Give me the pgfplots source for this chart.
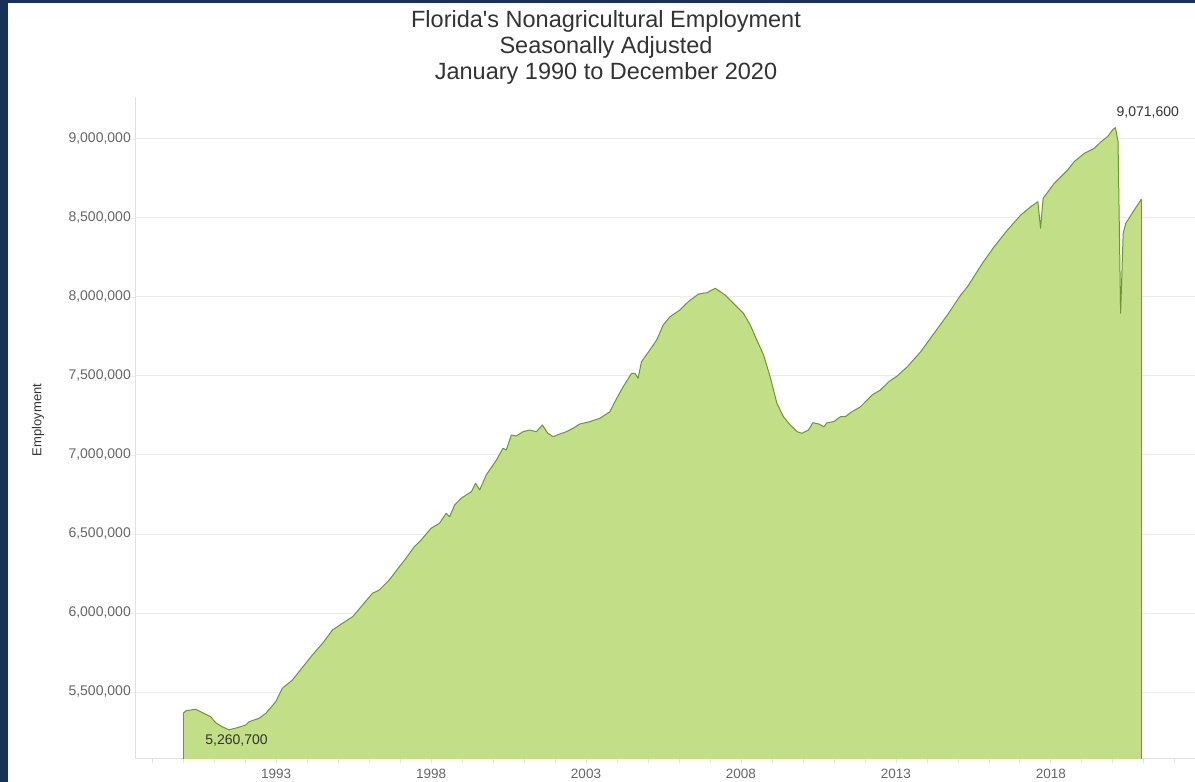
\documentclass[border=0pt]{standalone}
\usepackage{fontspec}
\setmainfont{Liberation Sans}
\usepackage{pgfplots}
\pgfplotsset{compat=1.18}
\usepackage{pgfplotstable}
\definecolor{navy}{RGB}{23,49,89}
\definecolor{areafill}{RGB}{194,222,135}
\definecolor{arealine}{RGB}{110,150,50}
\definecolor{gridc}{RGB}{236,236,236}
\definecolor{axisc}{RGB}{225,225,225}
\definecolor{ticklab}{RGB}{102,102,102}
\definecolor{titlec}{RGB}{51,51,51}

\pgfplotstableread{
year value
1990.000 5365000
1990.10 5381700
1990.40 5390600
1990.67 5365300
1990.89 5343700
1991.05 5305800
1991.26 5280400
1991.48 5260700
1991.75 5274100
1992.02 5291200
1992.13 5312100
1992.45 5333600
1992.67 5365300
1992.99 5438700
1993.20 5523500
1993.53 5576000
1993.74 5628500
1994.17 5734200
1994.50 5808300
1994.82 5892500
1995.14 5934800
1995.47 5976600
1995.79 6050700
1996.11 6124700
1996.33 6145600
1996.65 6208900
1996.98 6293100
1997.19 6346200
1997.46 6419700
1997.68 6462100
1998.00 6536100
1998.27 6567800
1998.49 6631100
1998.60 6609500
1998.76 6683600
1998.97 6726000
1999.30 6767800
1999.44 6820900
1999.57 6778500
1999.78 6873500
2000.11 6968400
2000.32 7042400
2000.43 7031700
2000.59 7126600
2000.75 7120300
2000.97 7147500
2001.18 7158300
2001.40 7147500
2001.59 7189900
2001.77 7137400
2001.94 7115900
2002.15 7132900
2002.37 7147500
2002.58 7169000
2002.80 7196200
2003.12 7210800
2003.45 7232300
2003.77 7274100
2003.99 7358900
2004.20 7432300
2004.47 7517100
2004.58 7517100
2004.68 7485500
2004.79 7590500
2005.06 7664600
2005.28 7727900
2005.49 7822800
2005.71 7875300
2006.03 7917700
2006.30 7970300
2006.63 8019000
2006.90 8027200
2007.17 8055100
2007.49 8012700
2007.81 7949400
2008.08 7896900
2008.30 7822800
2008.51 7727900
2008.73 7632900
2008.94 7495600
2009.16 7327200
2009.37 7242400
2009.59 7189900
2009.81 7147500
2009.97 7137400
2010.18 7158300
2010.32 7204500
2010.51 7196200
2010.67 7179100
2010.78 7204500
2010.99 7210800
2011.21 7242400
2011.37 7242400
2011.53 7267800
2011.86 7305700
2012.23 7379800
2012.50 7411400
2012.77 7464000
2013.04 7500000
2013.37 7558900
2013.80 7653800
2014.23 7770300
2014.66 7886100
2015.09 8012700
2015.31 8065200
2015.79 8213300
2016.17 8318400
2016.60 8424100
2017.03 8519000
2017.35 8571500
2017.58 8603200
2017.667 8434800
2017.75 8624700
2018.11 8719600
2018.54 8803800
2018.75 8856300
2019.08 8909500
2019.40 8941100
2019.62 8982900
2019.83 9014600
2020.00 9060000
2020.083 9071600
2020.167 8982900
2020.25 7896900
2020.333 8403200
2020.417 8466500
2020.69 8550600
2020.917 8618400
}\emp

\begin{document}
\begin{tikzpicture}[x=1pt,y=1pt]
\useasboundingbox (0,0) rectangle (1195,782);
\fill[white] (0,0) rectangle (1195,782);
\fill[navy] (0,0) rectangle (7.5,782);
\fill[navy] (0,779.3) rectangle (1195,782);
\node[font=\fontsize{23.5}{26}\selectfont, text=titlec, align=center, anchor=center, inner sep=0pt] at (606,734.5) {Florida\textquotesingle s Nonagricultural Employment\\Seasonally Adjusted\\January 1990 to December 2020};
\node[font=\fontsize{13}{15}\selectfont, text=titlec, rotate=90, anchor=center, inner sep=0pt] at (38,362) {Employment};
\begin{axis}[
  at={(136pt,23pt)}, anchor=south west,
  scale only axis, width=1059pt, height=662pt,
  xmin=1988.48, xmax=2022.65,
  ymin=5076000, ymax=9265800,
  axis x line*=bottom, axis y line*=left,
  axis line style={-, draw=axisc, line width=1pt},
  tick align=outside,
  xtick={1993,1998,2003,2008,2013,2018},
  xticklabels={1993,1998,2003,2008,2013,2018},
  minor xtick={1989,1990,...,2022},
  major tick length=4pt, minor tick length=4pt,
  tick style={draw=axisc, line width=0.8pt},
  ytick={5500000,6000000,6500000,7000000,7500000,8000000,8500000,9000000},
  ytick style={/pgfplots/major tick length=8pt, draw=gridc},
  scaled y ticks=false,
  /pgf/number format/assume math mode=true,
  yticklabel style={/pgf/number format/fixed, /pgf/number format/precision=0, /pgf/number format/1000 sep={,}, font=\fontsize{14}{16}\selectfont, text=ticklab, inner sep=0pt, xshift=-1pt},
  xticklabel style={font=\fontsize{13.5}{16}\selectfont, text=ticklab, inner sep=0pt, yshift=-6pt},
  ymajorgrids, major grid style={draw=gridc, line width=1pt},
]
\addplot[fill=areafill, draw=none] table[x=year, y=value] {\emp} \closedcycle;
\addplot[draw=arealine, line width=1pt, line join=round] table[x=year, y=value] {\emp};
\draw[arealine, line width=1pt] (axis cs:1990,5076000) -- (axis cs:1990,5365000);
\draw[gray!60!arealine, line width=1pt] (axis cs:2020.917,5076000) -- (axis cs:2020.917,8618400);
\node[anchor=west, font=\fontsize{14}{16}\selectfont, text=titlec, inner sep=0pt, xshift=1pt, yshift=15pt] at (axis cs:2020.083,9071600) {9,071,600};
\node[anchor=center, font=\fontsize{14}{16}\selectfont, text=titlec, inner sep=0pt, xshift=7.5pt, yshift=-11pt] at (axis cs:1991.48,5260700) {5,260,700};
\end{axis}
\end{tikzpicture}
\end{document}
